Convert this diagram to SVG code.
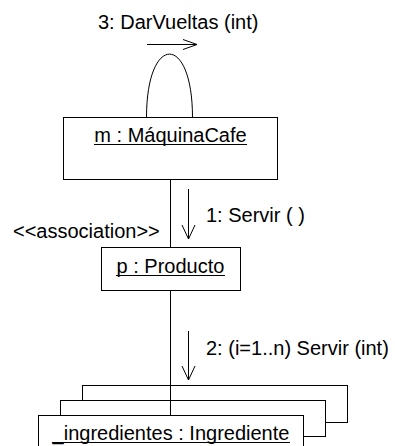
<svg xmlns="http://www.w3.org/2000/svg" width="395" height="446" viewBox="0 0 395 446">
<style>
text{font-family:"Liberation Sans",Arial,sans-serif;font-size:20px;fill:#000}
.box{fill:#fff;stroke:#000;stroke-width:1}
.ln{fill:none;stroke:#000;stroke-width:1}
.c{text-anchor:middle}
</style>
<rect width="395" height="446" fill="#fff"/>
<g id="connectors">
  <path class="ln" d="M146.5,117.5 C146.5,33 192.5,33 192.5,117.5"/>
  <line class="ln" x1="170.5" y1="179.5" x2="170.5" y2="247.5"/>
  <line class="ln" x1="170.5" y1="290.5" x2="170.5" y2="415.5"/>
</g>
<g id="messages">
  <g id="msg3">
    <path class="ln" d="M147,44.5 H197 M183,39.5 L197,44.5 L183,49.5"/>
    <text x="98" y="29">3: DarVueltas (int)</text>
  </g>
  <g id="msg1">
    <path class="ln" d="M188.5,189 V239 M182,225 L188.5,239 L195,225"/>
    <text x="206" y="222">1: Servir ( )</text>
  </g>
  <g id="msg2">
    <path class="ln" d="M188.5,331 V380 M182,366 L188.5,380 L195,366"/>
    <text x="206" y="355">2: (i=1..n) Servir (int)</text>
  </g>
  <text id="assoc" x="13" y="238">&lt;&lt;association&gt;&gt;</text>
</g>
<g id="maquina">
  <rect class="box" x="63.5" y="117.5" width="214" height="62"/>
  <text class="c" x="170.5" y="142">m : MáquinaCafe</text>
  <line class="ln" x1="94" y1="144.5" x2="247" y2="144.5"/>
</g>
<g id="producto">
  <rect class="box" x="101.5" y="247.5" width="139" height="43"/>
  <text class="c" x="170.5" y="273">p : Producto</text>
  <line class="ln" x1="116" y1="275.5" x2="225" y2="275.5"/>
</g>
<g id="ingredientes">
  <rect class="box" x="82.5" y="385.5" width="265" height="37"/>
  <rect class="box" x="60.5" y="400.5" width="265" height="36"/>
  <rect class="box" x="38.5" y="415.5" width="265" height="40"/>
  <line class="ln" x1="170.5" y1="385.5" x2="170.5" y2="415.5"/>
  <text class="c" x="171" y="440">_ingredientes : Ingrediente</text>
  <line class="ln" x1="52" y1="442.5" x2="290" y2="442.5"/>
</g>
</svg>
